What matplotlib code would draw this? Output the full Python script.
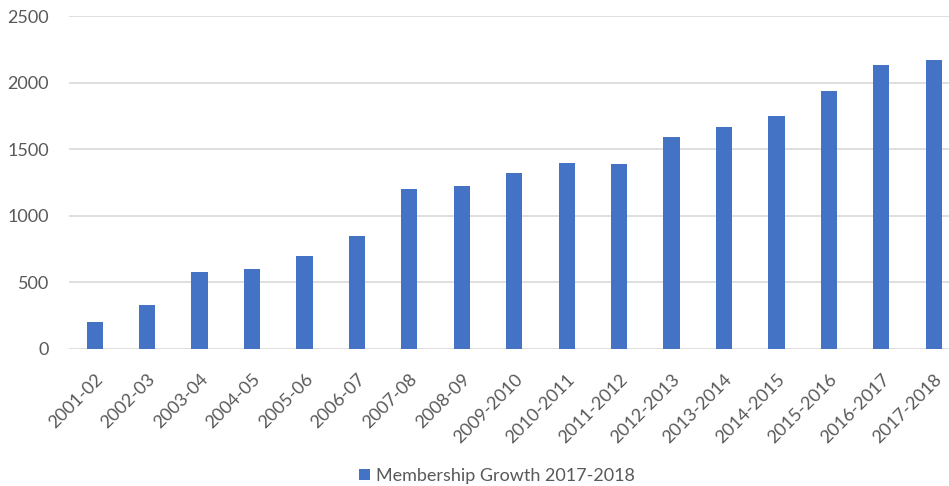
import matplotlib
matplotlib.use("Agg")
import matplotlib.pyplot as plt
from matplotlib.patches import Patch

categories = ["2001-02", "2002-03", "2003-04", "2004-05", "2005-06", "2006-07",
              "2007-08", "2008-09", "2009-2010", "2010-2011", "2011-2012",
              "2012-2013", "2013-2014", "2014-2015", "2015-2016", "2016-2017",
              "2017-2018"]
values = [200, 325, 575, 600, 700, 850, 1200, 1220, 1320, 1395, 1387,
          1595, 1670, 1750, 1940, 2130, 2175]
series_name = "Membership Growth 2017-2018"
yticks = [0, 500, 1000, 1500, 2000, 2500]

plt.rcParams['font.family'] = ['Lato', 'DejaVu Sans']
text_color = "#595959"
grid_color = "#d9d9d9"
bar_color = "#4472C4"

fig = plt.figure(figsize=(9.49, 4.86), dpi=100)
ax = fig.add_axes([68.5 / 949, 137.3 / 486, (960 - 68.5) / 949, 332.4 / 486])

x = list(range(len(categories)))
ax.bar(x, values, width=0.31, color=bar_color, zorder=3)
ax.set_xlim(-0.5, len(categories) - 0.5)
ax.set_ylim(0, 2500)
ax.set_yticks(yticks)
ax.set_yticklabels([str(t) for t in yticks], fontsize=13, color=text_color)
ax.set_xticks(x)
ax.set_xticklabels(categories, rotation=45, ha='right', rotation_mode='anchor',
                   fontsize=13, color=text_color)
ax.tick_params(axis='both', length=0)
ax.tick_params(axis='y', pad=14)
ax.tick_params(axis='x', pad=16)
ax.grid(axis='y', color=grid_color, linewidth=1.2, zorder=0)
for s in ['top', 'right', 'left', 'bottom']:
    ax.spines[s].set_visible(False)

handle = Patch(facecolor=bar_color, edgecolor='none')
fig.legend([handle], [series_name], loc='center', bbox_to_anchor=(497 / 949, 1 - 476 / 486),
           frameon=False, fontsize=13, labelcolor=text_color, handlelength=0.6,
           handleheight=0.6, handletextpad=0.3)

fig.savefig("out.png", dpi=100)
